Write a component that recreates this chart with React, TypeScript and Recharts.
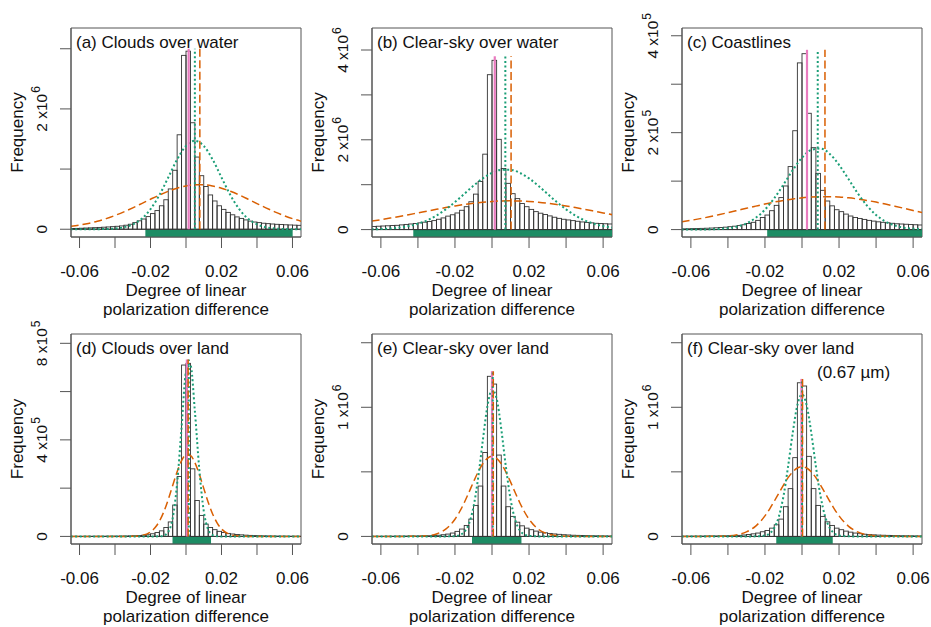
import React from 'react';
import { ComposedChart, Bar, Line, XAxis, YAxis, ReferenceLine, ReferenceArea, Label } from 'recharts';

const FONT = '"Liberation Sans", Arial, Helvetica, sans-serif';
const TEXT = '#111111';
const AXIS = '#555555';
const BAR_STROKE = '#333333';
const PINK = '#e97bbf';
const GREEN = '#1b9e77';
const ORANGE = '#d95f02';
const BAND = '#1d8c64';

// ---------- shared axes ----------
const X_DOMAIN: [number, number] = [-0.0648, 0.0648];
const X_TICKS = [-0.06, -0.04, -0.02, 0, 0.02, 0.04, 0.06];
const X_TICK_LABELS = ['-0.06', '', '-0.02', '', '0.02', '', '0.06'];
const BIN_WIDTH = 0.0025;

const BIN_CENTERS = [
  -0.06375, -0.06125, -0.05875, -0.05625, -0.05375, -0.05125, -0.04875, -0.04625, -0.04375, -0.04125,
  -0.03875, -0.03625, -0.03375, -0.03125, -0.02875, -0.02625, -0.02375, -0.02125, -0.01875, -0.01625,
  -0.01375, -0.01125, -0.00875, -0.00625, -0.00375, -0.00125, 0.00125, 0.00375, 0.00625, 0.00875,
  0.01125, 0.01375, 0.01625, 0.01875, 0.02125, 0.02375, 0.02625, 0.02875, 0.03125, 0.03375,
  0.03625, 0.03875, 0.04125, 0.04375, 0.04625, 0.04875, 0.05125, 0.05375, 0.05625, 0.05875,
  0.06125, 0.06375,
];

const WIDE_X = [
  -0.065, -0.06, -0.055, -0.05, -0.045, -0.04, -0.035, -0.03, -0.025, -0.02, -0.015, -0.01, -0.005, 0,
  0.005, 0.01, 0.015, 0.02, 0.025, 0.03, 0.035, 0.04, 0.045, 0.05, 0.055, 0.06, 0.065,
];
const NARROW_X = [
  -0.065, -0.05, -0.04, -0.035, -0.03, -0.025, -0.02, -0.0175, -0.015, -0.0125, -0.01, -0.0075, -0.005, -0.0025, 0,
  0.0025, 0.005, 0.0075, 0.01, 0.0125, 0.015, 0.0175, 0.02, 0.025, 0.03, 0.035, 0.04, 0.05, 0.065,
];

// ---------- (a) Clouds over water, counts x1e6 ----------
const HIST_A = [0.012, 0.014, 0.017, 0.02, 0.023, 0.026, 0.03, 0.034, 0.038, 0.043, 0.049, 0.055, 0.067, 0.083, 0.11, 0.14, 0.17, 0.21, 0.26, 0.31, 0.39, 0.49, 0.67, 0.98, 1.57, 2.89, 2.96, 1.77, 1.2, 0.89, 0.71, 0.57, 0.47, 0.39, 0.33, 0.28, 0.24, 0.205, 0.18, 0.155, 0.135, 0.12, 0.11, 0.1, 0.093, 0.087, 0.082, 0.078, 0.074, 0.071, 0.068, 0.065];
const GAUSS_A = [0, 0.0001, 0.0003, 0.0011, 0.0038, 0.012, 0.033, 0.08, 0.173, 0.333, 0.568, 0.861, 1.159, 1.385, 1.47, 1.385, 1.159, 0.861, 0.568, 0.333, 0.173, 0.08, 0.033, 0.012, 0.0038, 0.0011, 0.0003];
const WIDE_A = [0.048, 0.069, 0.097, 0.132, 0.176, 0.229, 0.289, 0.356, 0.427, 0.499, 0.569, 0.631, 0.682, 0.719, 0.738, 0.738, 0.719, 0.682, 0.631, 0.569, 0.499, 0.427, 0.356, 0.289, 0.229, 0.176, 0.132];
const MARKS_A = [0.0015, 0.005, 0.0078];
const BAND_A = [-0.0229, 0.0601];

// ---------- (b) Clear-sky over water, x1e6 ----------
const HIST_B = [0.07, 0.075, 0.08, 0.085, 0.09, 0.095, 0.105, 0.115, 0.125, 0.135, 0.15, 0.165, 0.18, 0.2, 0.23, 0.26, 0.3, 0.33, 0.37, 0.43, 0.51, 0.62, 0.79, 1.07, 1.68, 3.45, 3.77, 2.01, 1.36, 1.03, 0.8, 0.69, 0.58, 0.51, 0.45, 0.4, 0.365, 0.335, 0.305, 0.275, 0.25, 0.23, 0.215, 0.2, 0.185, 0.17, 0.16, 0.15, 0.14, 0.135, 0.13, 0.125];
const GAUSS_B = [0.006, 0.012, 0.024, 0.044, 0.078, 0.13, 0.207, 0.313, 0.45, 0.613, 0.794, 0.977, 1.14, 1.264, 1.331, 1.331, 1.264, 1.14, 0.977, 0.794, 0.613, 0.45, 0.313, 0.207, 0.13, 0.078, 0.044];
const WIDE_B = [0.189, 0.221, 0.256, 0.293, 0.332, 0.372, 0.412, 0.452, 0.491, 0.526, 0.559, 0.587, 0.609, 0.626, 0.637, 0.64, 0.637, 0.626, 0.609, 0.587, 0.559, 0.526, 0.491, 0.452, 0.412, 0.372, 0.332];
const MARKS_B = [0.0015, 0.0072, 0.0103];
const BAND_B = [-0.0425, 0.0648];

// ---------- (c) Coastlines, x1e5 ----------
const HIST_C = [0.015, 0.017, 0.02, 0.022, 0.025, 0.028, 0.032, 0.037, 0.043, 0.05, 0.06, 0.07, 0.083, 0.1, 0.125, 0.15, 0.19, 0.25, 0.3, 0.39, 0.5, 0.66, 0.9, 1.3, 2.04, 3.44, 3.63, 2.4, 1.69, 1.16, 0.81, 0.59, 0.49, 0.41, 0.37, 0.32, 0.28, 0.25, 0.23, 0.21, 0.19, 0.175, 0.16, 0.15, 0.14, 0.13, 0.12, 0.115, 0.11, 0.105, 0.1, 0.095];
const GAUSS_C = [0, 0.0005, 0.0016, 0.0045, 0.012, 0.029, 0.064, 0.129, 0.241, 0.412, 0.646, 0.929, 1.226, 1.483, 1.645, 1.673, 1.562, 1.336, 1.049, 0.755, 0.498, 0.302, 0.168, 0.085, 0.04, 0.017, 0.007];
const WIDE_C = [0.159, 0.191, 0.226, 0.265, 0.306, 0.349, 0.394, 0.44, 0.484, 0.527, 0.567, 0.602, 0.632, 0.655, 0.671, 0.679, 0.679, 0.671, 0.655, 0.632, 0.602, 0.567, 0.527, 0.484, 0.44, 0.394, 0.349];
const MARKS_C = [0.0027, 0.0085, 0.0124];
const BAND_C = [-0.0188, 0.0648];

// ---------- (d) Clouds over land, x1e5 ----------
const HIST_D = [0.003, 0.003, 0.004, 0.004, 0.005, 0.005, 0.006, 0.007, 0.008, 0.009, 0.011, 0.013, 0.016, 0.02, 0.026, 0.035, 0.05, 0.07, 0.11, 0.16, 0.23, 0.37, 0.6, 1.3, 2.48, 7.1, 7.17, 2.8, 1.49, 0.87, 0.51, 0.37, 0.28, 0.21, 0.165, 0.125, 0.1, 0.08, 0.065, 0.052, 0.042, 0.034, 0.028, 0.023, 0.019, 0.016, 0.013, 0.011, 0.009, 0.008, 0.007, 0.006];
const GAUSS_D = [0, 0, 0, 0, 0, 0, 0, 0.0004, 0.004, 0.033, 0.187, 0.757, 2.19, 4.51, 6.8, 7.1, 5.19, 2.77, 1.054, 0.286, 0.055, 0.008, 0.0007, 0, 0, 0, 0, 0, 0];
const WIDE_D = [0, 0, 0.0001, 0.0007, 0.006, 0.039, 0.185, 0.355, 0.627, 1.02, 1.529, 2.11, 2.681, 3.136, 3.378, 3.35, 3.059, 2.572, 1.991, 1.419, 0.932, 0.563, 0.313, 0.076, 0.013, 0.0016, 0.0002, 0, 0];
const MARKS_D = [0.0005, 0.0016, 0.0012];
const BAND_D = [-0.0076, 0.0141];

// ---------- (e) Clear-sky over land, x1e6 ----------
const HIST_E = [0.001, 0.001, 0.001, 0.0015, 0.0015, 0.002, 0.002, 0.0025, 0.003, 0.003, 0.0035, 0.004, 0.005, 0.007, 0.009, 0.013, 0.018, 0.026, 0.039, 0.057, 0.085, 0.134, 0.24, 0.39, 0.65, 1.24, 1.18, 0.63, 0.39, 0.23, 0.155, 0.11, 0.082, 0.064, 0.052, 0.041, 0.033, 0.028, 0.023, 0.019, 0.016, 0.013, 0.011, 0.009, 0.008, 0.007, 0.006, 0.005, 0.0045, 0.004, 0.0035, 0.003];
const GAUSS_E = [0, 0, 0, 0, 0, 0.0001, 0.002, 0.01, 0.034, 0.096, 0.228, 0.451, 0.739, 1.006, 1.137, 1.068, 0.832, 0.539, 0.29, 0.129, 0.048, 0.015, 0.004, 0.0001, 0, 0, 0, 0, 0];
const WIDE_E = [0, 0, 0.0013, 0.0056, 0.019, 0.056, 0.133, 0.191, 0.261, 0.34, 0.422, 0.499, 0.563, 0.605, 0.62, 0.605, 0.563, 0.499, 0.422, 0.34, 0.261, 0.191, 0.133, 0.056, 0.019, 0.0056, 0.0013, 0, 0];
const MARKS_E = [0.0, 0.0004, 0.0007];
const BAND_E = [-0.0108, 0.0159];

// ---------- (f) Clear-sky over land (0.67 um), x1e6 ----------
const HIST_F = [0.0015, 0.0015, 0.002, 0.002, 0.0025, 0.003, 0.003, 0.0035, 0.004, 0.0045, 0.005, 0.006, 0.008, 0.011, 0.015, 0.02, 0.026, 0.036, 0.046, 0.064, 0.09, 0.134, 0.23, 0.37, 0.61, 1.19, 1.165, 0.62, 0.37, 0.24, 0.155, 0.113, 0.085, 0.064, 0.052, 0.041, 0.033, 0.026, 0.021, 0.017, 0.014, 0.012, 0.01, 0.009, 0.008, 0.007, 0.006, 0.005, 0.0045, 0.004, 0.0035, 0.003];
const GAUSS_F = [0, 0, 0, 0, 0, 0.0004, 0.007, 0.023, 0.065, 0.154, 0.312, 0.542, 0.803, 1.017, 1.1, 1.017, 0.803, 0.542, 0.312, 0.154, 0.065, 0.023, 0.007, 0.0004, 0, 0, 0, 0, 0];
const WIDE_F = [0, 0.0003, 0.004, 0.013, 0.035, 0.08, 0.159, 0.212, 0.272, 0.335, 0.398, 0.455, 0.5, 0.53, 0.54, 0.53, 0.5, 0.455, 0.398, 0.335, 0.272, 0.212, 0.159, 0.08, 0.035, 0.013, 0.004, 0.0003, 0];
const MARKS_F = [-0.0003, 0.0, 0.0003];
const BAND_F = [-0.0139, 0.0166];

type PanelSpec = {
  title: string;
  subtitle?: string;
  unit: number;
  hist: number[];
  curveX: number[];
  gauss: number[];
  wide: number[];
  marks: number[];
  markTop: number;
  band: number[];
  yDomain: number[];
  yTicks: number[];
  yLabels: string[];
};

const PANELS: PanelSpec[] = [
  { title: '(a) Clouds over water', unit: 1e6, hist: HIST_A, curveX: WIDE_X, gauss: GAUSS_A, wide: WIDE_A, marks: MARKS_A, markTop: 3.0, band: BAND_A, yDomain: [-0.129, 3.345], yTicks: [0, 1, 2, 3], yLabels: ['0', '', '2 x10^6', ''] },
  { title: '(b) Clear-sky over water', unit: 1e6, hist: HIST_B, curveX: WIDE_X, gauss: GAUSS_B, wide: WIDE_B, marks: MARKS_B, markTop: 3.86, band: BAND_B, yDomain: [-0.165, 4.49], yTicks: [0, 1, 2, 3, 4], yLabels: ['0', '', '2 x10^6', '', '4 x10^6'] },
  { title: '(c) Coastlines', unit: 1e5, hist: HIST_C, curveX: WIDE_X, gauss: GAUSS_C, wide: WIDE_C, marks: MARKS_C, markTop: 3.71, band: BAND_C, yDomain: [-0.153, 4.16], yTicks: [0, 1, 2, 3, 4], yLabels: ['0', '', '2 x10^5', '', '4 x10^5'] },
  { title: '(d) Clouds over land', unit: 1e5, hist: HIST_D, curveX: NARROW_X, gauss: GAUSS_D, wide: WIDE_D, marks: MARKS_D, markTop: 7.33, band: BAND_D, yDomain: [-0.314, 8.386], yTicks: [0, 2, 4, 6, 8], yLabels: ['0', '', '4 x10^5', '', '8 x10^5'] },
  { title: '(e) Clear-sky over land', unit: 1e6, hist: HIST_E, curveX: NARROW_X, gauss: GAUSS_E, wide: WIDE_E, marks: MARKS_E, markTop: 1.28, band: BAND_E, yDomain: [-0.0588, 1.5677], yTicks: [0, 0.5, 1, 1.5], yLabels: ['0', '', '1 x10^6', ''] },
  { title: '(f) Clear-sky over land', subtitle: '(0.67 \u00b5m)', unit: 1e6, hist: HIST_F, curveX: NARROW_X, gauss: GAUSS_F, wide: WIDE_F, marks: MARKS_F, markTop: 1.22, band: BAND_F, yDomain: [-0.0588, 1.5677], yTicks: [0, 0.5, 1, 1.5], yLabels: ['0', '', '1 x10^6', ''] },
];

// plot-box layout (left, top, width, height) of each panel
const LAYOUT = [
  { l: 71, t: 28, w: 230, h: 209 },
  { l: 372, t: 28, w: 240, h: 209 },
  { l: 682, t: 28, w: 240, h: 209 },
  { l: 71, t: 334, w: 230, h: 210 },
  { l: 372, t: 334, w: 240, h: 210 },
  { l: 682, t: 334, w: 240, h: 210 },
];

const ML = 66;
const MR = 9;
const MT = 28;
const MB = 92;

function Panel({ p, box }: { p: PanelSpec; box: { l: number; t: number; w: number; h: number } }) {
  const W = box.w + ML + MR;
  const H = box.h + MT + MB;
  const u = p.unit;
  const rows = BIN_CENTERS.map((x, i) => ({ x, count: p.hist[i] * u }));
  const gauss = p.curveX.map((x, i) => ({ x, y: p.gauss[i] * u }));
  const wide = p.curveX.map((x, i) => ({ x, y: p.wide[i] * u }));
  const yDomain: [number, number] = [p.yDomain[0] * u, p.yDomain[1] * u];
  const yTicks = p.yTicks.map((t) => t * u);
  const top = p.markTop * u;
  const binPx = (box.w * BIN_WIDTH) / (X_DOMAIN[1] - X_DOMAIN[0]);

  const xTick = (tp: any) => {
    const idx = X_TICKS.indexOf(tp.payload.value);
    const lbl = idx >= 0 ? X_TICK_LABELS[idx] : '';
    if (!lbl) return <g />;
    return (
      <text x={tp.x} y={tp.y + 24.5} textAnchor="middle" fontFamily={FONT} fontSize={17} fill={TEXT}>
        {lbl}
      </text>
    );
  };

  const yTick = (tp: any) => {
    const idx = yTicks.indexOf(tp.payload.value);
    const lbl = idx >= 0 ? p.yLabels[idx] : '';
    if (!lbl) return <g />;
    const parts = lbl.split('^');
    return (
      <text x={tp.x} y={tp.y} transform={`rotate(-90 ${tp.x} ${tp.y})`} textAnchor="middle" fontFamily={FONT} fontSize={15.5} fill={TEXT}>
        {parts[0]}
        {parts[1] ? (
          <tspan dx={1} dy={-7} fontSize={12}>
            {parts[1]}
          </tspan>
        ) : null}
      </text>
    );
  };

  const xLabel = () => (
    <g>
      <text x={ML + box.w / 2} y={MT + box.h + 58.5} textAnchor="middle" fontFamily={FONT} fontSize={17} fill={TEXT}>
        Degree of linear
      </text>
      <text x={ML + box.w / 2} y={MT + box.h + 77.5} textAnchor="middle" fontFamily={FONT} fontSize={17} fill={TEXT}>
        polarization difference
      </text>
    </g>
  );

  const yLabel = () => {
    const x = ML - 48.5;
    const y = MT + box.h / 2;
    return (
      <text x={x} y={y} transform={`rotate(-90 ${x} ${y})`} textAnchor="middle" fontFamily={FONT} fontSize={17} fill={TEXT}>
        Frequency
      </text>
    );
  };

  const titleLabel = () => (
    <g>
      <text x={ML + 5} y={MT + 19.5} fontFamily={FONT} fontSize={17} fill={TEXT}>
        {p.title}
      </text>
      {p.subtitle ? (
        <text x={ML + 135} y={MT + 43.5} fontFamily={FONT} fontSize={17} fill={TEXT}>
          {p.subtitle}
        </text>
      ) : null}
    </g>
  );

  const barShape = (s: any) => (
    <rect x={s.x} y={s.y} width={binPx} height={Math.max(0, s.height)} fill="none" stroke={BAR_STROKE} strokeWidth={0.9} />
  );

  return (
    <div style={{ position: 'absolute', left: box.l - ML, top: box.t - MT }}>
      <ComposedChart
        width={W}
        height={H}
        data={rows}
        margin={{ top: MT, right: MR, bottom: 0, left: 0 }}
        barCategoryGap={0}
        barGap={0}
      >
        <XAxis
          xAxisId="main"
          dataKey="x"
          type="number"
          domain={X_DOMAIN}
          allowDataOverflow
          ticks={X_TICKS}
          interval={0}
          tick={xTick}
          tickSize={11}
          tickMargin={4}
          height={MB}
          axisLine={{ stroke: AXIS, strokeWidth: 1 }}
          tickLine={{ stroke: AXIS, strokeWidth: 1 }}
          label={<Label content={xLabel} />}
        />
        <XAxis xAxisId="bins" dataKey="x" type="number" domain={X_DOMAIN} allowDataOverflow hide height={0} />
        <YAxis
          type="number"
          domain={yDomain}
          allowDataOverflow
          ticks={yTicks}
          interval={0}
          tick={yTick}
          tickSize={11}
          tickMargin={13}
          width={ML}
          axisLine={{ stroke: AXIS, strokeWidth: 1 }}
          tickLine={{ stroke: AXIS, strokeWidth: 1 }}
          label={<Label content={yLabel} />}
        />
        <ReferenceArea
          xAxisId="main"
          x1={X_DOMAIN[0]}
          x2={X_DOMAIN[1]}
          y1={yDomain[0]}
          y2={yDomain[1]}
          fill="none"
          fillOpacity={0}
          stroke={AXIS}
          strokeWidth={1}
          ifOverflow="visible"
          label={<Label content={titleLabel} />}
        />
        <ReferenceArea
          xAxisId="main"
          x1={p.band[0]}
          x2={p.band[1]}
          y1={yDomain[0]}
          y2={0}
          fill={BAND}
          fillOpacity={1}
          stroke="none"
          ifOverflow="hidden"
        />
        <Bar xAxisId="bins" dataKey="count" fill="none" shape={barShape} isAnimationActive={false} />
        <ReferenceLine xAxisId="main" y={0} stroke={BAR_STROKE} strokeWidth={0.9} ifOverflow="visible" />
        <Line
          xAxisId="main"
          data={wide}
          dataKey="y"
          type="monotone"
          dot={false}
          stroke={ORANGE}
          strokeWidth={1.5}
          strokeDasharray="8 4"
          isAnimationActive={false}
        />
        <Line
          xAxisId="main"
          data={gauss}
          dataKey="y"
          type="monotone"
          dot={false}
          stroke={GREEN}
          strokeWidth={2}
          strokeDasharray="2 2.5"
          isAnimationActive={false}
        />
        <ReferenceLine
          xAxisId="main"
          segment={[{ x: p.marks[0], y: 0 }, { x: p.marks[0], y: top }]}
          stroke={PINK}
          strokeWidth={2.2}
          ifOverflow="visible"
        />
        <ReferenceLine
          xAxisId="main"
          segment={[{ x: p.marks[1], y: 0 }, { x: p.marks[1], y: top }]}
          stroke={GREEN}
          strokeWidth={2}
          strokeDasharray="2 2.5"
          ifOverflow="visible"
        />
        <ReferenceLine
          xAxisId="main"
          segment={[{ x: p.marks[2], y: 0 }, { x: p.marks[2], y: top }]}
          stroke={ORANGE}
          strokeWidth={1.5}
          strokeDasharray="8 3.5"
          ifOverflow="visible"
        />
      </ComposedChart>
    </div>
  );
}

export default function App() {
  return (
    <div
      style={{
        position: 'absolute',
        left: 0,
        top: 0,
        width: 931,
        height: 627,
        background: '#ffffff',
        overflow: 'hidden',
      }}
    >
      {PANELS.map((p, i) => (
        <Panel key={i} p={p} box={LAYOUT[i]} />
      ))}
    </div>
  );
}
